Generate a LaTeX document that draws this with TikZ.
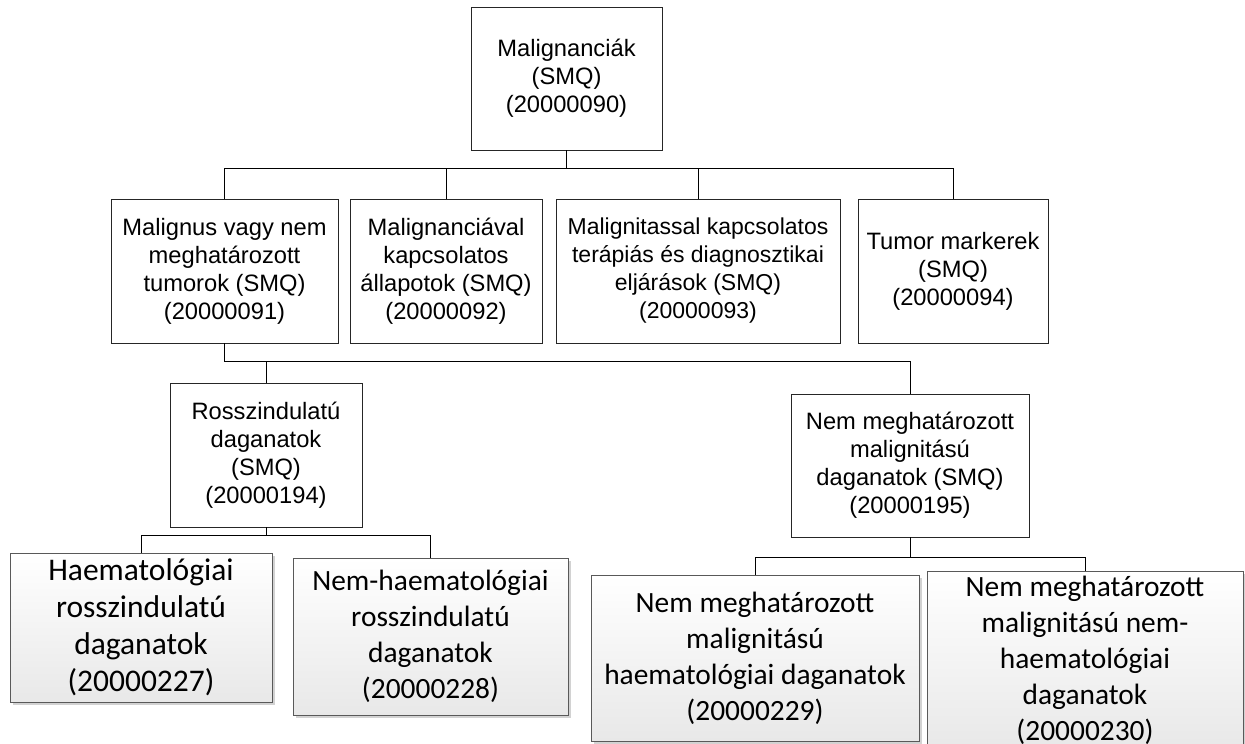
\documentclass[tikz,border=0pt]{standalone}
\usepackage{fontspec}
\newfontfamily\arialf{Liberation Sans}
\newfontfamily\calf{Carlito}
\usetikzlibrary{calc,shadows}
\begin{document}
\begin{tikzpicture}[x=1pt,y=-1pt,
  sbox/.style={draw=black!85, line width=0.9pt, fill=white, inner sep=0pt, align=center,
    font=\arialf\fontsize{23.7}{28}\selectfont},
  cbox/.style={draw=black!65, line width=0.9pt, top color=white, bottom color=black!9,
    inner sep=0pt, align=center,
    drop shadow={shadow xshift=3pt, shadow yshift=-3pt, fill=black!25, opacity=0.7}},
  conn/.style={draw=black, line width=0.9pt}]
\useasboundingbox (0,0) rectangle (1245,744);
\node[sbox, minimum width=191pt, minimum height=143pt] (top) at (566.5,78.5)
  {Malignanciák\\(SMQ)\\(20000090)};
\node[sbox, minimum width=227pt, minimum height=144pt] (b1) at (224.5,271)
  {Malignus vagy nem\\meghatározott\\tumorok (SMQ)\\(20000091)};
\node[sbox, minimum width=192pt, minimum height=144pt] (b2) at (446,271)
  {Malignanciával\\kapcsolatos\\állapotok (SMQ)\\(20000092)};
\node[sbox, minimum width=284pt, minimum height=144pt, font=\arialf\fontsize{23}{28}\selectfont] (b3) at (698,271)
  {Malignitassal kapcsolatos\\terápiás és diagnosztikai\\eljárások (SMQ)\\(20000093)};
\node[sbox, minimum width=190pt, minimum height=144pt] (b4) at (953,271)
  {Tumor markerek\\(SMQ)\\(20000094)};
\node[sbox, minimum width=192pt, minimum height=144pt] (r1) at (266,455)
  {Rosszindulatú\\daganatok\\(SMQ)\\(20000194)};
\node[sbox, minimum width=238pt, minimum height=143pt] (r2) at (910,465.5)
  {Nem meghatározott\\malignitású\\daganatok (SMQ)\\(20000195)};
\node[cbox, minimum width=262pt, minimum height=149pt, font=\calf\fontsize{31.5}{37}\selectfont] (h1) at (141,627.5)
  {Haematológiai\\rosszindulatú\\daganatok\\(20000227)};
\node[cbox, minimum width=275pt, minimum height=157pt, font=\calf\fontsize{29.4}{36}\selectfont] (h2) at (430.5,636.5)
  {Nem-haematológiai\\rosszindulatú\\daganatok\\(20000228)};
\node[cbox, minimum width=328pt, minimum height=166pt, font=\calf\fontsize{29.4}{36}\selectfont] (h3) at (755,658)
  {Nem meghatározott\\malignitású\\haematológiai daganatok\\(20000229)};
\node[cbox, minimum width=316pt, minimum height=179pt, font=\calf\fontsize{29.4}{36}\selectfont] (h4) at (1085,660.5)
  {Nem meghatározott\\malignitású nem-\\haematológiai\\daganatok\\(20000230)};
% level 1 connectors
\coordinate (bus1) at ($(top.south)+(0,18)$);
\draw[conn] (top.south) -- (bus1);
\draw[conn] (b1.north) |- (bus1) -| (b4.north);
\draw[conn] (b2.north) -- (b2.north |- bus1);
\draw[conn] (b3.north) -- (b3.north |- bus1);
% level 2 connectors
\coordinate (bus2) at ($(b1.south)+(0,18)$);
\draw[conn] (b1.south) -- (bus2) -| (r2.north);
\draw[conn] (r1.north) -- (r1.north |- bus2);
% level 3 connectors
\coordinate (bus3) at ($(r1.south)+(0,8)$);
\draw[conn] (r1.south) -- (bus3);
\draw[conn] (h1.north) |- (bus3) -| (h2.north);
\coordinate (bus4) at ($(r2.south)+(0,20)$);
\draw[conn] (r2.south) -- (bus4);
\draw[conn] (h3.north) |- (bus4) -| (h4.north);
\end{tikzpicture}
\end{document}
